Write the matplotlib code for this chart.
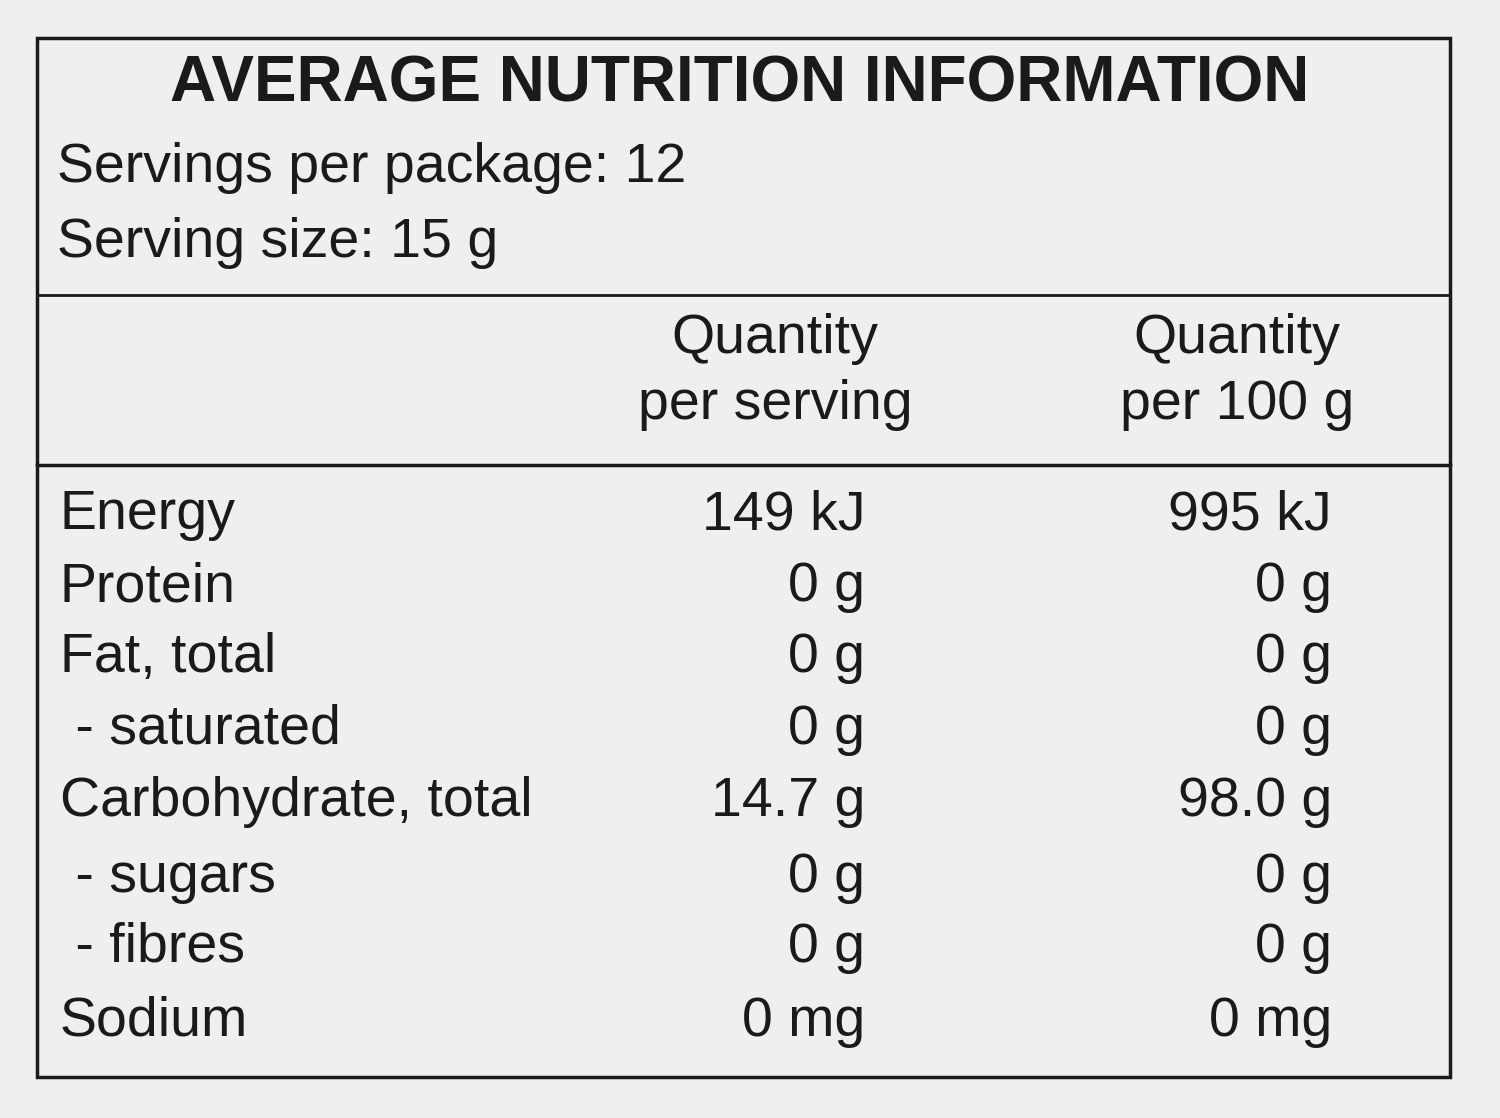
import matplotlib.pyplot as plt
from matplotlib.patches import Rectangle

title = 'AVERAGE NUTRITION INFORMATION'
header_lines = ['Servings per package: 12', 'Serving size: 15 g']
col_headers = ['Quantity\nper serving', 'Quantity\nper 100 g']
nutrients = ['Energy', 'Protein', 'Fat, total', ' - saturated',
             'Carbohydrate, total', ' - sugars', ' - fibres', 'Sodium']
per_serving = ['149 kJ', '0 g', '0 g', '0 g', '14.7 g', '0 g', '0 g', '0 mg']
per_100g = ['995 kJ', '0 g', '0 g', '0 g', '98.0 g', '0 g', '0 g', '0 mg']

plt.rcParams['font.family'] = ['Liberation Sans', 'DejaVu Sans']
fig = plt.figure(figsize=(15, 11.18), dpi=100)
fig.patch.set_facecolor('#efefef')
ax = fig.add_axes([0, 0, 1, 1])
ax.set_xlim(0, 1500)
ax.set_ylim(1118, 0)
ax.axis('off')

ink = '#1a1a1a'
ax.add_patch(Rectangle((37, 38), 1413, 1039, fill=False, lw=2.5, ec=ink))
ax.plot([37, 1450], [295, 295], color=ink, lw=2)
ax.plot([37, 1450], [465, 465], color=ink, lw=2.5)

# title is wide in the original, so spread it out a little
ax.text(740, 85, title, ha='center', va='center', fontsize=46, fontweight='bold', color=ink)
for i, line in enumerate(header_lines):
    ax.text(57, 168 + i * 75, line, ha='left', va='center', fontsize=40, color=ink)

for x, h in zip([775, 1237], col_headers):
    ax.text(x, 372, h, ha='center', va='center', fontsize=40, color=ink, linespacing=1.35)

row_y = [515, 587, 658, 730, 802, 878, 948, 1022]
for y, n, a, b in zip(row_y, nutrients, per_serving, per_100g):
    ax.text(60, y, n, ha='left', va='center', fontsize=40, color=ink)
    ax.text(865, y, a, ha='right', va='center', fontsize=40, color=ink)
    ax.text(1332, y, b, ha='right', va='center', fontsize=40, color=ink)

fig.savefig('out.png', dpi=100, facecolor=fig.get_facecolor())
